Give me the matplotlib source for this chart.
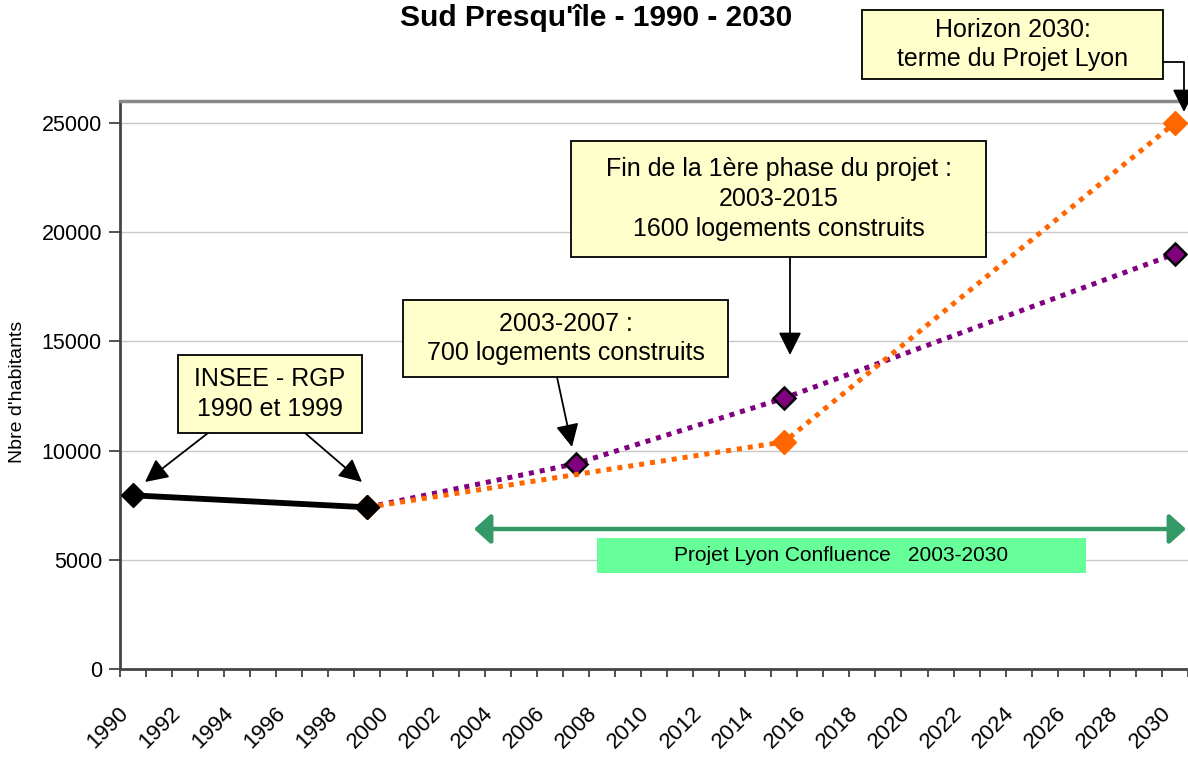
import numpy as np
import matplotlib
matplotlib.use("Agg")
import matplotlib.pyplot as plt
from matplotlib.patches import Rectangle, FancyArrowPatch
from matplotlib.transforms import ScaledTranslation

plt.rcParams['font.family'] = ['Liberation Sans', 'DejaVu Sans']

# data
insee_years = [1990, 1999]
insee_pop = [7950, 7400]

low_years = [1999, 2007, 2015, 2030]
low_pop = [7400, 9400, 12400, 19000]

high_years = [1999, 2015, 2030]
high_pop = [7400, 10400, 25000]

first_year, last_year = 1990, 2030
y_ticks = [0, 5000, 10000, 15000, 20000, 25000]

W, H = 1188, 765
fig = plt.figure(figsize=(W / 100, H / 100), dpi=100)
ax = fig.add_axes([120 / W, 1 - 669 / H, 1 - 120 / W, (669 - 101) / H])


def fx(px):
    return px / W


def fy(py):
    return 1 - py / H


# series
ax.plot(insee_years, insee_pop, color='black', lw=4.2, marker='D', ms=12,
        mfc='black', mec='black', zorder=4)
ax.plot(low_years, low_pop, color='#800080', lw=3.6, linestyle=(0, (1, 1.2)),
        marker='D', ms=11, mfc='#800080', mec='black', mew=1.8, zorder=3)
ax.plot(high_years, high_pop, color='#FF6600', lw=3.6, linestyle=(0, (1, 1.2)),
        marker='D', ms=12, mfc='#FF6600', mec='#FF6600', zorder=3.5)

# axes
ax.set_xlim(first_year - 0.5, last_year + 0.5)
ax.set_ylim(0, 26000)
bounds = np.arange(first_year - 0.5, last_year + 1, 1)
ax.set_xticks(bounds)
ax.set_xticklabels([])
label_years = list(range(first_year, last_year + 1, 2))
ax.set_xticks(label_years, minor=True)
ax.set_xticklabels([str(y) for y in label_years], minor=True, rotation=45,
                   ha='right', fontsize=16)
shift = ScaledTranslation(-8 / 100, 0, fig.dpi_scale_trans)
for lab in ax.get_xticklabels(minor=True):
    lab.set_transform(lab.get_transform() + shift)
ax.tick_params(axis='x', which='major', direction='out', length=5.5, width=1.2,
               color='#333333')
ax.tick_params(axis='x', which='minor', length=0, pad=24)
ax.set_yticks(y_ticks)
ax.set_yticklabels([str(v) for v in y_ticks], fontsize=15.5)
ax.tick_params(axis='y', direction='out', length=8, width=1.2, color='#333333',
               pad=5)
ax.grid(axis='y', color='#C8C8C8', lw=1)
ax.set_axisbelow(True)
for s in ['left', 'bottom']:
    ax.spines[s].set_color('#444444')
    ax.spines[s].set_linewidth(2)
ax.spines['top'].set_color('#888888')
ax.spines['top'].set_linewidth(2.5)
ax.spines['right'].set_visible(False)

fig.text(fx(18), fy(392), "Nbre d'habitants", rotation=90, ha='center',
         va='center', fontsize=14)
fig.text(fx(596), fy(18), "Sud Presqu'île - 1990 - 2030", ha='center',
         va='center', fontsize=21.5, fontweight='bold')


# annotation boxes
def box(x0, y0, x1, y1, text, face='#FFFFCC', edge='black', size=18):
    r = Rectangle((fx(x0), fy(y1)), fx(x1) - fx(x0), fy(y0) - fy(y1),
                  transform=fig.transFigure, facecolor=face,
                  edgecolor=edge, lw=1.3 if edge != 'none' else 0, zorder=10)
    fig.add_artist(r)
    t = fig.text(fx((x0 + x1) / 2), fy((y0 + y1) / 2), text, ha='center',
                 va='center', fontsize=size, linespacing=1.3, zorder=11)
    return t


def arrow(p0, p1, style='-|>', color='black', lw=1.3, conn='arc3', ms=20):
    a = FancyArrowPatch((fx(p0[0]), fy(p0[1])), (fx(p1[0]), fy(p1[1])),
                        transform=fig.transFigure, arrowstyle=style,
                        mutation_scale=ms, color=color, lw=lw,
                        connectionstyle=conn, shrinkA=0, shrinkB=0, zorder=9)
    fig.add_artist(a)


box(178, 355, 362, 433, "INSEE - RGP\n1990 et 1999")
box(403, 300, 728, 377, "2003-2007 :\n700 logements construits")
box(571, 141, 986, 257,
    "Fin de la 1ère phase du projet :\n2003-2015\n1600 logements construits")
box(862, 10, 1163, 79, "Horizon 2030:\nterme du Projet Lyon")
box(597, 538, 1086, 573, "Projet Lyon Confluence   2003-2030",
    face='#66FF99', edge='none', size=15)

arrow((208, 433), (145, 482), style='-|>,head_length=0.7,head_width=0.35')
arrow((305, 433), (362, 482), style='-|>,head_length=0.7,head_width=0.35')
arrow((557, 377), (572, 447), style='-|>,head_length=0.7,head_width=0.35')
arrow((790, 257), (790, 355), style='-|>,head_length=0.7,head_width=0.35')
arrow((1163, 62), (1184, 112), style='-|>,head_length=0.7,head_width=0.35',
      conn='angle,angleA=0,angleB=90,rad=0')
arrow((474, 529), (1186, 529), style='<|-|>,head_length=0.5,head_width=0.45',
      color='#339966', lw=3.2)

fig.savefig('out.png', dpi=100)
